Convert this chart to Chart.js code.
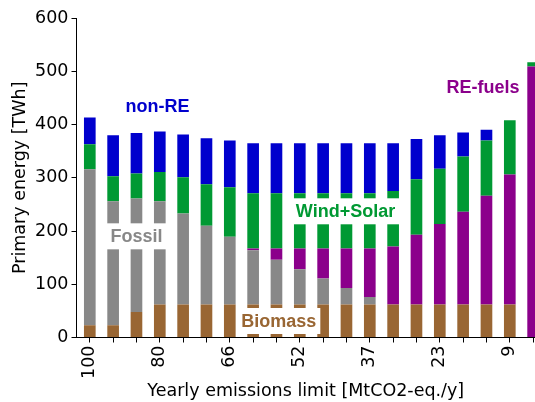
<!DOCTYPE html>
<html>
<head>
<meta charset="utf-8">
<script src="https://cdn.jsdelivr.net/npm/chart.js@4"></script>
<style>
  html, body { margin: 0; padding: 0; background: #fff; overflow: hidden; }
  #wrap { width: 535px; height: 402px; }
</style>
</head>
<body>
<div id="wrap"><canvas id="energyChart"></canvas></div>
<script>
// emission limit labels, only every third bar is labelled
const xLabels = ["100", "", "", "80", "", "", "66", "", "", "52", "", "", "37", "", "", "23", "", "", "9", ""];
const yTicks = [0, 100, 200, 300, 400, 500, 600];

// primary energy per carrier [TWh]
const biomass = [23, 23, 48, 62, 62, 62, 62, 62, 62, 62, 62, 62, 62, 62, 62, 62, 62, 62, 62, 0];
const fossil = [293, 233, 213, 194, 171, 148, 127, 102, 84, 66, 49, 31, 14, 0, 0, 0, 0, 0, 0, 0];
const reFuels = [0, 0, 0, 0, 0, 0, 0, 3, 21, 39, 56, 74, 91, 109, 131, 151, 174, 204, 244, 509];
const windSolar = [47, 47, 47, 55, 68, 78, 93, 104, 104, 104, 104, 104, 104, 104, 104, 104, 104, 104, 102, 8];
const nonRE = [50, 77, 76, 76, 80, 86, 88, 94, 94, 94, 94, 94, 94, 90, 76, 63, 45, 20, 0, 0];

// text labels placed in data coordinates
const tags = [
  { text: "non-RE", x: 2.9, y: 434, color: "#0000cd", box: false },
  { text: "Fossil", x: 2.0, y: 190, color: "#888888", box: true },
  { text: "Wind+Solar", x: 10.96, y: 237, color: "#009933", box: true },
  { text: "Biomass", x: 8.1, y: 31, color: "#996633", box: true },
  { text: "RE-fuels", x: 16.85, y: 470, color: "#8b008b", box: false },
];

const toPoints = (arr) => arr.map((v, i) => ({ x: i, y: v }));

const tagPlugin = {
  id: "tags",
  afterDatasetsDraw(chart) {
    const { ctx, scales } = chart;
    ctx.save();
    ctx.font = "bold 18px 'Liberation Sans', Arial, sans-serif";
    ctx.textAlign = "center";
    ctx.textBaseline = "middle";
    tags.forEach((t) => {
      const px = scales.x.getPixelForValue(t.x);
      const py = scales.y.getPixelForValue(t.y);
      if (t.box) {
        const w = ctx.measureText(t.text).width + 8;
        ctx.fillStyle = "#ffffff";
        ctx.fillRect(px - w / 2, py - 13, w, 26);
      }
      ctx.fillStyle = t.color;
      ctx.fillText(t.text, px, py + 1);
    });
    ctx.restore();
  },
};

const font = { family: "'DejaVu Sans', sans-serif", size: 17.5 };

const ctx = document.getElementById("energyChart").getContext("2d");
const energyChart = new Chart(ctx, {
  type: "bar",
  data: {
    datasets: [
      { label: "Biomass", data: toPoints(biomass), backgroundColor: "#996633" },
      { label: "Fossil", data: toPoints(fossil), backgroundColor: "#888888" },
      { label: "RE-fuels", data: toPoints(reFuels), backgroundColor: "#8b008b" },
      { label: "Wind+Solar", data: toPoints(windSolar), backgroundColor: "#009933" },
      { label: "non-RE", data: toPoints(nonRE), backgroundColor: "#0000cd" },
    ],
  },
  options: {
    responsive: true,
    maintainAspectRatio: false,
    animation: false,
    datasets: {
      bar: { barPercentage: 0.5, categoryPercentage: 1, borderWidth: 0 },
    },
    layout: { padding: { top: 18, right: 0, left: 0, bottom: 0 } },
    plugins: { legend: { display: false }, tooltip: { enabled: false } },
    scales: {
      x: {
        type: "linear",
        stacked: true,
        offset: false,
        min: -0.57,
        max: 19.08,
        afterBuildTicks: (axis) => {
          axis.ticks = xLabels.map((_, i) => ({ value: i }));
        },
        afterFit: (axis) => {
          axis.height = 64.5;
          axis.paddingLeft = 0;
          axis.paddingRight = 0;
        },
        ticks: {
          autoSkip: false,
          minRotation: 90,
          maxRotation: 90,
          color: "#000",
          font: font,
          padding: 3,
          callback: (v) => xLabels[v] || "",
        },
        grid: { drawOnChartArea: false, offset: false, color: "#000", tickLength: 5 },
        border: { color: "#000", width: 1 },
        title: {
          display: true,
          text: "Yearly emissions limit [MtCO2-eq./y]",
          color: "#000",
          font: font,
          padding: { top: 0, bottom: 0 },
        },
      },
      y: {
        stacked: true,
        min: 0,
        max: 600,
        afterBuildTicks: (axis) => {
          axis.ticks = yTicks.map((v) => ({ value: v }));
        },
        afterFit: (axis) => {
          axis.width = 76.5;
          axis.paddingTop = 0;
          axis.paddingBottom = 0;
        },
        ticks: { color: "#000", font: font, padding: 3 },
        grid: { drawOnChartArea: false, color: "#000", tickLength: 5 },
        border: { color: "#000", width: 1 },
        title: {
          display: true,
          text: "Primary energy [TWh]",
          color: "#000",
          font: font,
          padding: { top: 10, bottom: 0 },
        },
      },
    },
  },
  plugins: [tagPlugin],
});
</script>
</body>
</html>
